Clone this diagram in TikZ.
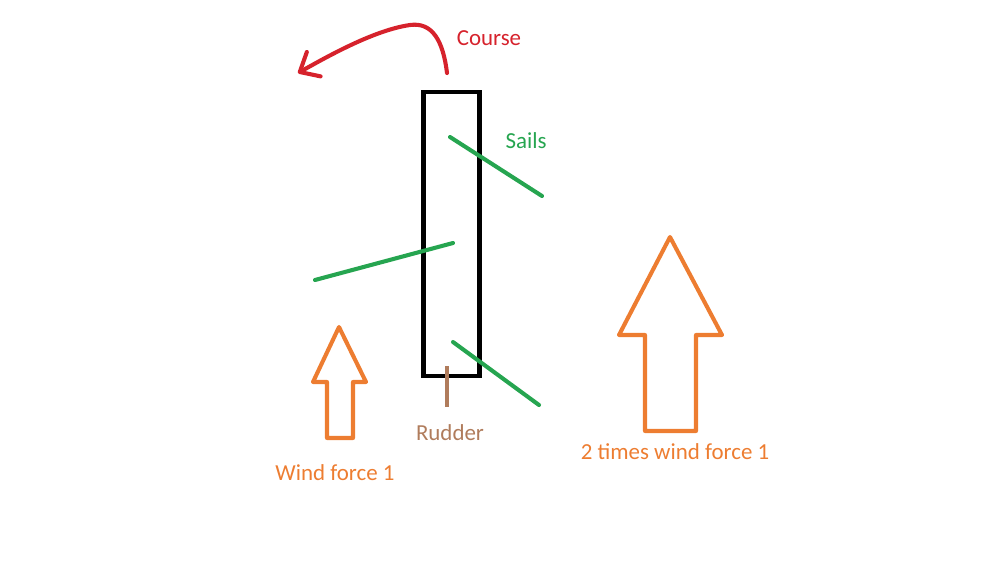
\documentclass[tikz,border=0pt]{standalone}
\usepackage{fontspec}
\setmainfont{Carlito}
\usepackage{tikz}
\usetikzlibrary{arrows.meta, positioning}
\definecolor{coursered}{RGB}{214,34,44}
\definecolor{sailgreen}{RGB}{38,165,80}
\definecolor{windorange}{RGB}{237,125,49}
\definecolor{rudderbrown}{RGB}{176,124,92}

\begin{document}
\begin{tikzpicture}[x=0.025cm, y=-0.025cm, font=\fontsize{16.3}{19}\selectfont,
    lbl/.style={inner sep=0pt, anchor=center},
    sail/.style={draw=sailgreen, line width=2.9pt, line cap=round},
    windarrow/.style={draw=windorange, line width=2.9pt, line join=round}]
    \useasboundingbox (0,0) rectangle (1000,562);
    % boat and rudder
    \node[draw, line width=2.9pt, minimum width=1.4cm, minimum height=7.1cm, inner sep=0pt] (boat) at (451.5,234) {};
    \coordinate (rudtop) at (447,366);
    \coordinate (rudbot) at (447,407);
    \draw[rudderbrown, line width=2.2pt] (rudtop) -- (rudbot);
    \node[lbl, text=rudderbrown] (rudder) at (450,433) {Rudder};
    % sails
    \draw[sail] (450,137) -- (542,196);
    \draw[sail] (315,280) -- (453,243);
    \draw[sail] (453,342) -- (539,405);
    \node[lbl, text=sailgreen] (sails) at (526,141) {Sails};
    % course
    \coordinate (cstart) at (447,73);
    \coordinate (ctip) at (298,73);
    \draw[coursered, line width=2.9pt, line cap=round, -{Straight Barb[length=0.4cm, width=0.7cm, round]}]
      (cstart) .. controls (443,40) and (432,22) .. (410,25) .. controls (375,30) and (330,55) .. (ctip);
    \node[lbl, text=coursered] (course) at (489,38) {Course};
    % wind arrows
    \draw[windarrow] (339,327) -- (366,382) -- (353,382) -- (353,438) -- (327,438) -- (327,382) -- (313,382) -- cycle;
    \node[lbl, text=windorange] (wind1) at (335,473) {Wind force 1};
    \draw[windarrow] (670,237) -- (722,335) -- (696,335) -- (696,431) -- (645,431) -- (645,335) -- (619,335) -- cycle;
    \node[lbl, text=windorange] (wind2) at (675,452) {2 times wind force 1};
\end{tikzpicture}
\end{document}
